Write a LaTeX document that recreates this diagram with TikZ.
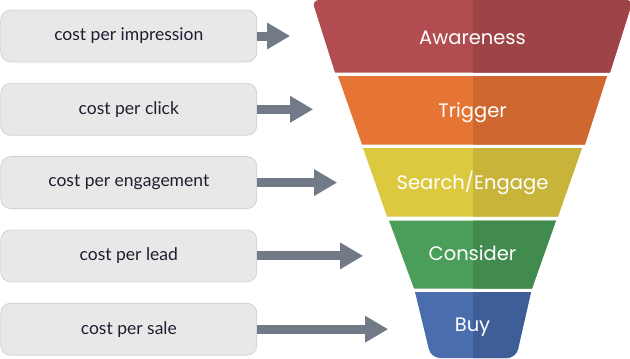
\documentclass[tikz,border=0pt]{standalone}
\usepackage{fontspec}
\setmainfont{Lato}
\newfontfamily\stagefont{Poppins}
\usetikzlibrary{arrows.meta, positioning}

\definecolor{awareL}{RGB}{177,77,80}
\definecolor{awareR}{RGB}{158,68,71}
\definecolor{triggerL}{RGB}{230,116,52}
\definecolor{triggerR}{RGB}{207,104,48}
\definecolor{searchL}{RGB}{220,201,63}
\definecolor{searchR}{RGB}{200,179,59}
\definecolor{considerL}{RGB}{75,157,90}
\definecolor{considerR}{RGB}{66,139,79}
\definecolor{buyL}{RGB}{74,109,173}
\definecolor{buyR}{RGB}{63,94,152}
\definecolor{boxfill}{RGB}{232,232,232}
\definecolor{boxline}{RGB}{210,210,210}
\definecolor{boxtext}{RGB}{30,30,48}
\definecolor{arrowgray}{RGB}{115,122,135}

\begin{document}
\begin{tikzpicture}[x=1pt, y=-1pt,
    costbox/.style={draw=boxline, fill=boxfill, rounded corners=10pt, line width=0.8pt,
      minimum width=256pt, minimum height=52pt, text=boxtext, font=\fontsize{17.5}{20}\selectfont},
    stage/.style={text=white, anchor=base, font=\stagefont\fontsize{19.5}{22}\selectfont},
    flow/.style={draw=arrowgray, line width=9pt, -{Triangle[length=23pt, width=25pt]}}]
    \useasboundingbox (0,0) rectangle (630,359);

    % funnel bands, right half darker
    \fill[awareL, path picture={\fill[awareR] (472.5,-5) rectangle (640,80);}]
      (335,72.5) [rounded corners=7pt] -- (312,0) -- (633,0) [sharp corners] -- (610,72.5) -- cycle;
    \fill[triggerL, path picture={\fill[triggerR] (472.5,70) rectangle (640,150);}]
      (338,76) -- (607,76) -- (585,144.5) -- (362,144.5) -- cycle;
    \fill[searchL, path picture={\fill[searchR] (472.5,140) rectangle (640,220);}]
      (363,148) -- (582,148) -- (558,216.5) -- (387,216.5) -- cycle;
    \fill[considerL, path picture={\fill[considerR] (472.5,215) rectangle (640,290);}]
      (389,220.5) -- (556,220.5) -- (532,288.5) -- (414,288.5) -- cycle;
    \fill[buyL, path picture={\fill[buyR] (472.5,285) rectangle (640,365);}]
      (415,292) -- (531,292) [rounded corners=9pt] -- (516,358) -- (431,358) [sharp corners] -- cycle;

    \node[stage] (awareness) at (472.5,44) {Awareness};
    \node[stage] (trigger) at (472.5,117) {Trigger};
    \node[stage] (search) at (472.5,189) {Search/Engage};
    \node[stage] (consider) at (472.5,260) {Consider};
    \node[stage] (buy) at (472.5,331) {Buy};

    % cost models
    \node[costbox] (cpm) at (128.8,36) {cost per impression};
    \node[costbox, below=20.5pt of cpm] (cpc) {cost per click};
    \node[costbox, below=20.5pt of cpc] (cpe) {cost per engagement};
    \node[costbox, below=20.5pt of cpe] (cpl) {cost per lead};
    \node[costbox, below=20.5pt of cpl] (cps) {cost per sale};

    \coordinate[right=33pt of cpm.east] (tip1);
    \coordinate[right=56pt of cpc.east] (tip2);
    \coordinate[right=80pt of cpe.east] (tip3);
    \coordinate[right=106pt of cpl.east] (tip4);
    \coordinate[right=131pt of cps.east] (tip5);

    \draw[flow] (cpm.east) -- (tip1);
    \draw[flow] (cpc.east) -- (tip2);
    \draw[flow] (cpe.east) -- (tip3);
    \draw[flow] (cpl.east) -- (tip4);
    \draw[flow] (cps.east) -- (tip5);
\end{tikzpicture}
\end{document}
